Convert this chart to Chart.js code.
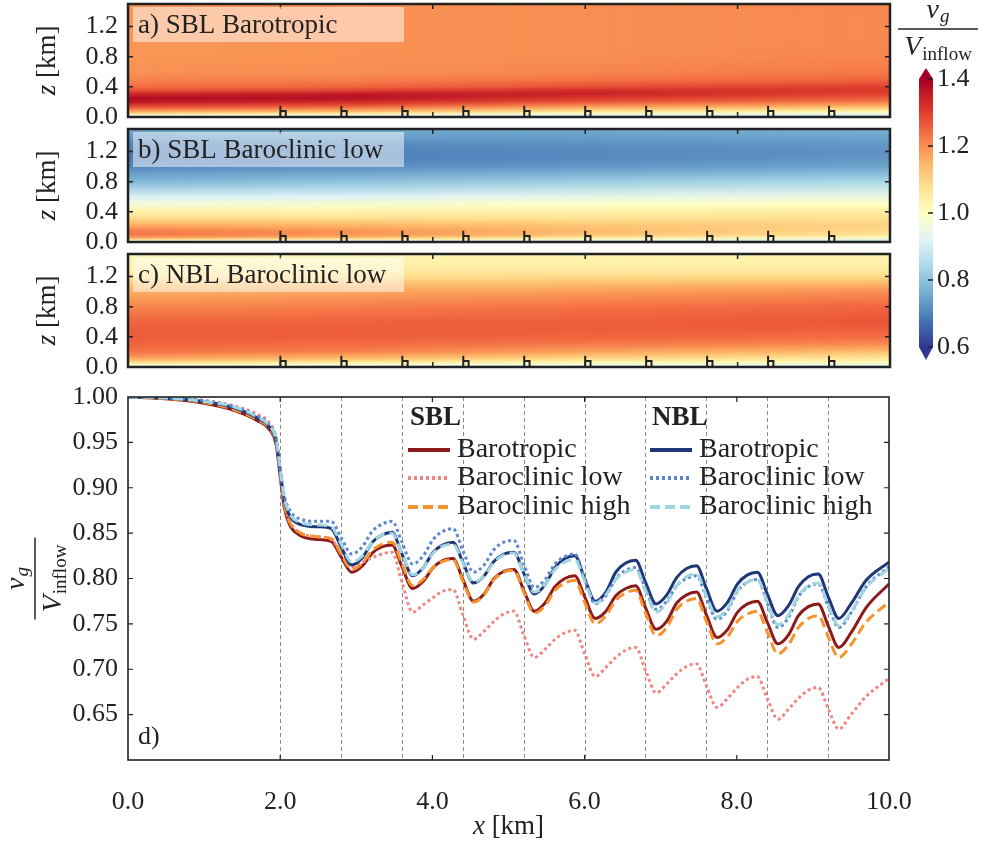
<!DOCTYPE html>
<html>
<head>
<meta charset="utf-8">
<title>Geostrophic wind through the farm</title>
<script src="https://cdn.jsdelivr.net/npm/chart.js@4"></script>
<style>
  body { margin: 0; background: #fff; }
  #wrap { position: relative; width: 984px; height: 843px; }
  canvas { position: absolute; }
</style>
</head>
<body>
<div id="wrap">
  <canvas id="panel-a" width="900" height="135" style="left:0;top:0"></canvas>
  <canvas id="panel-b" width="900" height="135" style="left:0;top:125px"></canvas>
  <canvas id="panel-c" width="900" height="135" style="left:0;top:250px"></canvas>
  <canvas id="cbar" width="94" height="370" style="left:890px;top:0"></canvas>
  <canvas id="lines" width="984" height="463" style="left:0;top:380px"></canvas>
</div>
<script>
// ---- data ----
const turbineX = [2.0, 2.8, 3.6, 4.4, 5.2, 6.0, 6.8, 7.6, 8.4, 9.2];
const xMajor = [0, 2, 4, 6, 8, 10];
const zTicks = [0.0, 0.4, 0.8, 1.2];
const vTicks = [0.65, 0.70, 0.75, 0.80, 0.85, 0.90, 0.95, 1.00];
const cbTicks = [0.6, 0.8, 1.0, 1.2, 1.4];

// heatmap columns (km) and heights (km), values = v_g / V_inflow
const xCols = [0, 3, 6, 10];
const zLevels = [0, 0.02, 0.04, 0.07, 0.1, 0.15, 0.2, 0.25, 0.3, 0.35, 0.4, 0.5, 0.6, 0.8, 1.0, 1.1, 1.2, 1.3, 1.4, 1.5];
const fieldA = [
  [0.80, 0.95, 1.06, 1.16, 1.22, 1.30, 1.36, 1.38, 1.34, 1.28, 1.24, 1.21, 1.195, 1.19, 1.19, 1.19, 1.19, 1.19, 1.19, 1.19],
  [0.80, 0.93, 1.03, 1.13, 1.19, 1.27, 1.33, 1.37, 1.36, 1.30, 1.25, 1.215, 1.20, 1.195, 1.195, 1.195, 1.195, 1.195, 1.195, 1.195],
  [0.80, 0.90, 0.98, 1.06, 1.12, 1.20, 1.27, 1.31, 1.34, 1.33, 1.28, 1.23, 1.21, 1.20, 1.20, 1.20, 1.20, 1.20, 1.20, 1.20],
  [0.80, 0.88, 0.95, 1.02, 1.08, 1.16, 1.22, 1.26, 1.29, 1.31, 1.30, 1.25, 1.225, 1.21, 1.205, 1.205, 1.205, 1.205, 1.205, 1.21]
];
const fieldB = [
  [0.80, 0.97, 1.12, 1.20, 1.23, 1.22, 1.18, 1.14, 1.10, 1.06, 1.03, 0.97, 0.91, 0.78, 0.71, 0.69, 0.69, 0.70, 0.73, 0.76],
  [0.80, 0.95, 1.08, 1.16, 1.19, 1.19, 1.16, 1.13, 1.09, 1.06, 1.03, 0.98, 0.92, 0.80, 0.72, 0.70, 0.70, 0.71, 0.74, 0.76],
  [0.80, 0.91, 1.01, 1.09, 1.13, 1.14, 1.13, 1.11, 1.08, 1.06, 1.04, 0.99, 0.94, 0.82, 0.73, 0.71, 0.71, 0.72, 0.74, 0.76],
  [0.80, 0.88, 0.96, 1.03, 1.07, 1.09, 1.10, 1.10, 1.08, 1.07, 1.05, 1.00, 0.95, 0.84, 0.75, 0.73, 0.72, 0.73, 0.75, 0.77]
];
const fieldC = [
  [0.82, 0.95, 1.03, 1.10, 1.15, 1.20, 1.23, 1.24, 1.25, 1.26, 1.26, 1.26, 1.25, 1.21, 1.16, 1.12, 1.07, 1.04, 1.03, 1.03],
  [0.82, 0.93, 1.01, 1.07, 1.12, 1.17, 1.21, 1.23, 1.24, 1.25, 1.26, 1.26, 1.255, 1.22, 1.17, 1.13, 1.08, 1.05, 1.03, 1.03],
  [0.82, 0.91, 0.99, 1.04, 1.08, 1.13, 1.17, 1.20, 1.22, 1.24, 1.25, 1.26, 1.26, 1.235, 1.18, 1.14, 1.09, 1.05, 1.03, 1.03],
  [0.82, 0.90, 0.97, 1.02, 1.05, 1.09, 1.13, 1.17, 1.20, 1.22, 1.24, 1.26, 1.27, 1.25, 1.20, 1.15, 1.09, 1.05, 1.03, 1.03]
];

// panel d: v_g / V_inflow along x
const xKm = [0, 0.5, 1.0, 1.4, 1.7, 1.85, 1.95, 2.0, 2.05, 2.12, 2.25, 2.5, 2.67,
  2.8, 2.94, 3.08, 3.21, 3.34, 3.47,
  3.6, 3.74, 3.88, 4.01, 4.14, 4.27,
  4.4, 4.54, 4.68, 4.81, 4.94, 5.07,
  5.2, 5.34, 5.48, 5.61, 5.74, 5.87,
  6.0, 6.14, 6.28, 6.41, 6.54, 6.67,
  6.8, 6.94, 7.08, 7.21, 7.34, 7.47,
  7.6, 7.74, 7.88, 8.01, 8.14, 8.27,
  8.4, 8.54, 8.68, 8.81, 8.94, 9.07,
  9.2, 9.34, 9.5, 9.7, 10.0];
const sblBaro = [1.000, 0.998, 0.993, 0.985, 0.974, 0.965, 0.946, 0.912, 0.880, 0.860, 0.848, 0.843, 0.841,
  0.824, 0.807, 0.814, 0.828, 0.835, 0.837,
  0.813, 0.789, 0.797, 0.812, 0.820, 0.822,
  0.799, 0.775, 0.783, 0.800, 0.808, 0.810,
  0.787, 0.764, 0.773, 0.791, 0.800, 0.803,
  0.780, 0.756, 0.764, 0.781, 0.789, 0.792,
  0.768, 0.744, 0.753, 0.773, 0.782, 0.785,
  0.760, 0.735, 0.744, 0.763, 0.772, 0.775,
  0.752, 0.728, 0.738, 0.759, 0.769, 0.772,
  0.748, 0.724, 0.740, 0.768, 0.794];
const sblLow = [1.000, 0.999, 0.996, 0.990, 0.981, 0.972, 0.953, 0.918, 0.885, 0.864, 0.851, 0.846, 0.843,
  0.828, 0.813, 0.818, 0.823, 0.827, 0.829,
  0.796, 0.763, 0.771, 0.779, 0.786, 0.788,
  0.760, 0.733, 0.742, 0.753, 0.761, 0.764,
  0.738, 0.713, 0.722, 0.733, 0.740, 0.743,
  0.717, 0.692, 0.702, 0.713, 0.721, 0.724,
  0.699, 0.674, 0.684, 0.695, 0.703, 0.706,
  0.682, 0.658, 0.668, 0.680, 0.689, 0.692,
  0.668, 0.645, 0.656, 0.668, 0.677, 0.680,
  0.657, 0.634, 0.650, 0.670, 0.690];
const sblHigh = [1.000, 0.998, 0.994, 0.986, 0.975, 0.966, 0.948, 0.914, 0.883, 0.863, 0.851, 0.846, 0.844,
  0.827, 0.810, 0.817, 0.831, 0.838, 0.840,
  0.816, 0.792, 0.799, 0.812, 0.819, 0.821,
  0.797, 0.774, 0.782, 0.799, 0.807, 0.809,
  0.785, 0.762, 0.770, 0.787, 0.795, 0.798,
  0.774, 0.750, 0.759, 0.776, 0.784, 0.787,
  0.762, 0.737, 0.746, 0.766, 0.775, 0.778,
  0.753, 0.728, 0.736, 0.753, 0.761, 0.764,
  0.741, 0.717, 0.727, 0.746, 0.756, 0.759,
  0.736, 0.713, 0.727, 0.752, 0.774];
const nblBaro = [1.000, 0.999, 0.995, 0.988, 0.977, 0.968, 0.950, 0.918, 0.888, 0.870, 0.860, 0.857, 0.855,
  0.835, 0.815, 0.823, 0.840, 0.848, 0.851,
  0.827, 0.803, 0.812, 0.829, 0.837, 0.840,
  0.818, 0.795, 0.803, 0.819, 0.827, 0.829,
  0.806, 0.783, 0.793, 0.812, 0.822, 0.825,
  0.800, 0.775, 0.785, 0.807, 0.817, 0.820,
  0.796, 0.772, 0.782, 0.801, 0.811, 0.814,
  0.789, 0.764, 0.774, 0.794, 0.804, 0.807,
  0.783, 0.759, 0.770, 0.791, 0.802, 0.805,
  0.780, 0.756, 0.772, 0.798, 0.818];
const nblLow = [1.000, 0.999, 0.996, 0.989, 0.979, 0.970, 0.953, 0.922, 0.893, 0.876, 0.866, 0.863, 0.863,
  0.845, 0.827, 0.835, 0.852, 0.860, 0.863,
  0.840, 0.816, 0.825, 0.843, 0.852, 0.855,
  0.831, 0.807, 0.815, 0.832, 0.840, 0.842,
  0.816, 0.790, 0.799, 0.816, 0.824, 0.827,
  0.800, 0.772, 0.781, 0.800, 0.809, 0.812,
  0.789, 0.766, 0.775, 0.792, 0.800, 0.803,
  0.779, 0.755, 0.765, 0.786, 0.796, 0.799,
  0.773, 0.746, 0.757, 0.780, 0.791, 0.794,
  0.770, 0.746, 0.762, 0.791, 0.813];
const nblHigh = [1.000, 0.999, 0.995, 0.989, 0.978, 0.969, 0.952, 0.920, 0.890, 0.872, 0.862, 0.859, 0.857,
  0.838, 0.818, 0.825, 0.840, 0.848, 0.850,
  0.827, 0.804, 0.812, 0.828, 0.836, 0.838,
  0.817, 0.796, 0.803, 0.818, 0.826, 0.828,
  0.806, 0.785, 0.793, 0.810, 0.818, 0.821,
  0.797, 0.773, 0.782, 0.799, 0.807, 0.810,
  0.786, 0.763, 0.773, 0.792, 0.802, 0.805,
  0.781, 0.758, 0.767, 0.787, 0.796, 0.799,
  0.774, 0.749, 0.760, 0.781, 0.792, 0.795,
  0.771, 0.748, 0.763, 0.790, 0.811];
const caseNames = ['Barotropic', 'Baroclinic low', 'Baroclinic high'];

// ---- colormap (RdYlBu reversed) ----
const cbMin = 0.6, cbMax = 1.4;
const cmapColors = ['#313695', '#4575b4', '#74add1', '#abd9e9', '#e0f3f8', '#ffffbf',
                    '#fee090', '#fdae61', '#f46d43', '#d73027', '#a50026'];
function hex(h) { return [1, 3, 5].map(i => parseInt(h.substr(i, 2), 16)); }
function cmap(v) {
  let t = Math.max(0, Math.min(1, (v - cbMin) / (cbMax - cbMin))) * (cmapColors.length - 1);
  const i = Math.min(Math.floor(t), cmapColors.length - 2), f = t - i;
  const a = hex(cmapColors[i]), b = hex(cmapColors[i + 1]);
  return 'rgb(' + a.map((c, k) => Math.round(c + (b[k] - c) * f)).join(',') + ')';
}

const SERIF = '"Liberation Serif", "Times New Roman", serif';
Chart.defaults.font.family = SERIF;
Chart.defaults.color = '#222';

// no extra room for tick labels hanging over the plot edges
const noPadY = s => { s.paddingTop = 0; s.paddingBottom = 0; };
const noPadX = s => { s.paddingLeft = 0; s.paddingRight = 0; };
const noGrid = { display: false, drawTicks: false };

// math helpers
function mathPart(ctx, base, sub, subItalic, cx, baseline, subDrop) {
  ctx.font = 'italic 28px ' + SERIF;
  const wb = ctx.measureText(base).width;
  const subFont = (subItalic ? 'italic ' : '') + '19px ' + SERIF;
  ctx.font = subFont;
  const ws = ctx.measureText(sub).width;
  const x0 = cx - (wb + ws + 1) / 2;
  ctx.textAlign = 'left'; ctx.textBaseline = 'alphabetic';
  ctx.font = 'italic 28px ' + SERIF;
  ctx.fillText(base, x0, baseline);
  ctx.font = subFont;
  ctx.fillText(sub, x0 + wb + 1, baseline + subDrop);
}
function drawFrac(ctx, cx, cy, halfLen) {
  ctx.fillStyle = '#222'; ctx.strokeStyle = '#222';
  mathPart(ctx, 'v', 'g', true, cx, cy - 11, 4);
  ctx.beginPath(); ctx.lineWidth = 1.5;
  ctx.moveTo(cx - halfLen, cy); ctx.lineTo(cx + halfLen, cy); ctx.stroke();
  mathPart(ctx, 'V', 'inflow', false, cx, cy + 26, 5);
}
function unitLabel(ctx, sym, unit, cx, cy) {
  ctx.font = 'italic 27px ' + SERIF;
  const w1 = ctx.measureText(sym).width;
  ctx.font = '27px ' + SERIF;
  const w2 = ctx.measureText(unit).width;
  const x0 = cx - (w1 + w2) / 2;
  ctx.textAlign = 'left'; ctx.textBaseline = 'middle'; ctx.fillStyle = '#222';
  ctx.font = 'italic 27px ' + SERIF; ctx.fillText(sym, x0, cy);
  ctx.font = '27px ' + SERIF; ctx.fillText(unit, x0 + w1, cy);
}

// ---- heatmap panels ----
function drawPanel(chart, field, label) {
  const { ctx, chartArea: a, scales: { x, y } } = chart;
  const yb = y.getPixelForValue(0), yt = y.getPixelForValue(1.5);
  const profileGrad = (g2d, vals) => {
    const g = g2d.createLinearGradient(0, yb, 0, yt);
    zLevels.forEach((z, k) => g.addColorStop((y.getPixelForValue(z) - yb) / (yt - yb), cmap(vals[k])));
    return g;
  };
  const off = document.createElement('canvas');
  off.width = chart.width; off.height = chart.height;
  const o = off.getContext('2d');
  ctx.save();
  for (let i = 0; i < xCols.length - 1; i++) {
    const x0 = Math.round(x.getPixelForValue(xCols[i])), x1 = Math.round(x.getPixelForValue(xCols[i + 1]));
    ctx.fillStyle = profileGrad(ctx, field[i]);
    ctx.fillRect(x0, yt, x1 - x0, yb - yt);
    o.clearRect(0, 0, off.width, off.height);
    o.globalCompositeOperation = 'source-over';
    o.fillStyle = profileGrad(o, field[i + 1]);
    o.fillRect(x0, yt, x1 - x0, yb - yt);
    const m = o.createLinearGradient(x0, 0, x1, 0);
    m.addColorStop(0, 'rgba(0,0,0,0)'); m.addColorStop(1, 'rgba(0,0,0,1)');
    o.globalCompositeOperation = 'destination-in';
    o.fillStyle = m;
    o.fillRect(x0, yt, x1 - x0, yb - yt);
    ctx.drawImage(off, 0, 0);
  }
  // turbines: rotor disk, nacelle, tower
  ctx.strokeStyle = '#222'; ctx.lineWidth = 2;
  turbineX.forEach(t => {
    const xr = x.getPixelForValue(t), xn = x.getPixelForValue(t + 0.07), yh = y.getPixelForValue(0.08);
    ctx.beginPath();
    ctx.moveTo(xr, y.getPixelForValue(0.0)); ctx.lineTo(xr, y.getPixelForValue(0.15));
    ctx.moveTo(xr, yh); ctx.lineTo(xn, yh); ctx.lineTo(xn, yb);
    ctx.stroke();
  });
  // ticks
  ctx.lineWidth = 1.5;
  ctx.beginPath();
  zTicks.forEach(v => {
    if (v <= 0) return;
    const py = y.getPixelForValue(v);
    ctx.moveTo(a.left, py); ctx.lineTo(a.left + 5, py);
    ctx.moveTo(a.right, py); ctx.lineTo(a.right - 5, py);
  });
  xMajor.forEach(v => {
    if (v <= 0 || v >= 10) return;
    const px = x.getPixelForValue(v);
    ctx.moveTo(px, a.top); ctx.lineTo(px, a.top + 5);
    ctx.moveTo(px, a.bottom); ctx.lineTo(px, a.bottom - 5);
  });
  ctx.stroke();
  // frame
  ctx.lineWidth = 2.5;
  ctx.strokeRect(a.left, a.top, a.width, a.height);
  // panel label
  ctx.fillStyle = 'rgba(255,255,255,0.5)';
  ctx.fillRect(a.left + 5, a.top + 3, 271, 35);
  ctx.fillStyle = '#222';
  ctx.font = '27px ' + SERIF; ctx.textAlign = 'left'; ctx.textBaseline = 'alphabetic';
  ctx.fillText(label, a.left + 10, a.top + 29);
  // axis title
  ctx.translate(48, (a.top + a.bottom) / 2);
  ctx.rotate(-Math.PI / 2);
  unitLabel(ctx, 'z', ' [km]', 0, 0);
  ctx.restore();
}

function heatmapChart(id, field, label) {
  return new Chart(document.getElementById(id), {
    type: 'scatter',
    data: { datasets: [] },
    options: {
      responsive: false, animation: false, devicePixelRatio: 1,
      layout: { padding: { top: 4, bottom: 18, right: 10, left: 0 } },
      plugins: { legend: { display: false }, tooltip: { enabled: false } },
      scales: {
        x: { type: 'linear', min: 0, max: 10, display: false, afterFit: noPadX },
        y: {
          type: 'linear', min: 0, max: 1.5,
          grid: noGrid, border: { display: false },
          afterBuildTicks: s => { s.ticks = zTicks.map(v => ({ value: v })); },
          afterFit: s => { s.width = 128; noPadY(s); },
          ticks: { font: { size: 26 }, padding: 10, color: '#222', autoSkip: false, callback: v => v.toFixed(1) }
        }
      }
    },
    plugins: [{ id: 'field', afterDraw: c => drawPanel(c, field, label) }]
  });
}

heatmapChart('panel-a', fieldA, 'a) SBL Barotropic');
heatmapChart('panel-b', fieldB, 'b) SBL Baroclinic low');
heatmapChart('panel-c', fieldC, 'c) NBL Baroclinic low');

// ---- colorbar ----
new Chart(document.getElementById('cbar'), {
  type: 'scatter',
  data: { datasets: [] },
  options: {
    responsive: false, animation: false, devicePixelRatio: 1,
    layout: { padding: { top: 79, bottom: 23, left: 29, right: 0 } },
    plugins: { legend: { display: false }, tooltip: { enabled: false } },
    scales: {
      x: { type: 'linear', min: 0, max: 1, display: false, afterFit: noPadX },
      y: {
        type: 'linear', position: 'right', min: cbMin, max: cbMax,
        grid: noGrid, border: { display: false },
        afterBuildTicks: s => { s.ticks = cbTicks.map(v => ({ value: v })); },
        afterFit: s => { s.width = 51; noPadY(s); },
        ticks: { font: { size: 26 }, padding: 4, color: '#222', autoSkip: false, callback: v => v.toFixed(1) }
      }
    }
  },
  plugins: [{
    id: 'colorbar',
    afterDraw(chart) {
      const { ctx, chartArea: a, scales: { y } } = chart;
      const y0 = y.getPixelForValue(cbMin), y1 = y.getPixelForValue(cbMax);
      const g = ctx.createLinearGradient(0, y0, 0, y1);
      cmapColors.forEach((c, i) => g.addColorStop(i / (cmapColors.length - 1), c));
      ctx.save();
      ctx.fillStyle = g;
      ctx.fillRect(a.left, y1, a.width, y0 - y1);
      const cx = (a.left + a.right) / 2;
      ctx.fillStyle = cmapColors[cmapColors.length - 1];
      ctx.beginPath(); ctx.moveTo(a.left, y1); ctx.lineTo(a.right, y1); ctx.lineTo(cx, y1 - 11); ctx.closePath(); ctx.fill();
      ctx.fillStyle = cmapColors[0];
      ctx.beginPath(); ctx.moveTo(a.left, y0); ctx.lineTo(a.right, y0); ctx.lineTo(cx, y0 + 13); ctx.closePath(); ctx.fill();
      ctx.strokeStyle = '#222'; ctx.lineWidth = 1.5;
      ctx.beginPath();
      cbTicks.forEach(v => { const py = y.getPixelForValue(v); ctx.moveTo(a.right - 5, py); ctx.lineTo(a.right, py); });
      ctx.stroke();
      drawFrac(ctx, 48, 29, 40);
      ctx.restore();
    }
  }]
});

// ---- panel d: line chart ----
const seriesDefs = [
  { data: sblBaro, color: '#8b1a1a', dash: [] },
  { data: sblLow, color: '#f28482', dash: [3, 3] },
  { data: sblHigh, color: '#f7932f', dash: [10, 5] },
  { data: nblBaro, color: '#1f3677', dash: [] },
  { data: nblLow, color: '#5b87cf', dash: [3, 3] },
  { data: nblHigh, color: '#9fd6e2', dash: [10, 5] }
];
const datasets = seriesDefs.map((s, i) => ({
  label: (i < 3 ? 'SBL ' : 'NBL ') + caseNames[i % 3],
  data: xKm.map((xv, k) => ({ x: xv, y: s.data[k] })),
  borderColor: s.color,
  borderDash: s.dash,
  borderWidth: 3,
  pointRadius: 0,
  fill: false,
  cubicInterpolationMode: 'monotone',
  order: seriesDefs.length - i
}));

new Chart(document.getElementById('lines'), {
  type: 'line',
  data: { datasets },
  options: {
    responsive: false, animation: false, devicePixelRatio: 1,
    layout: { padding: { top: 17, right: 95, left: 0, bottom: 0 } },
    plugins: { legend: { display: false }, tooltip: { enabled: false } },
    scales: {
      x: {
        type: 'linear', min: 0, max: 10,
        grid: noGrid, border: { display: false },
        afterBuildTicks: s => { s.ticks = xMajor.map(v => ({ value: v })); },
        afterFit: s => { s.height = 83; noPadX(s); },
        ticks: { font: { size: 26 }, padding: 27, color: '#222', maxRotation: 0, autoSkip: false, callback: v => v.toFixed(1) }
      },
      y: {
        type: 'linear', min: 0.6, max: 1.0,
        grid: noGrid, border: { display: false },
        afterBuildTicks: s => { s.ticks = vTicks.map(v => ({ value: v })); },
        afterFit: s => { s.width = 128; noPadY(s); },
        ticks: { font: { size: 26 }, padding: 10, color: '#222', autoSkip: false, callback: v => v.toFixed(2) }
      }
    }
  },
  plugins: [{
    id: 'decor',
    beforeDatasetsDraw(chart) {
      const { ctx, chartArea: a, scales: { x } } = chart;
      ctx.save();
      ctx.strokeStyle = '#8a8a8a'; ctx.lineWidth = 1; ctx.setLineDash([4, 3]);
      turbineX.forEach(t => {
        const px = Math.round(x.getPixelForValue(t)) + 0.5;
        ctx.beginPath(); ctx.moveTo(px, a.top); ctx.lineTo(px, a.bottom); ctx.stroke();
      });
      ctx.restore();
    },
    afterDraw(chart) {
      const { ctx, chartArea: a, scales: { x, y } } = chart;
      ctx.save();
      ctx.strokeStyle = '#222'; ctx.lineWidth = 1.2;
      ctx.beginPath();
      vTicks.forEach(v => {
        if (v >= 1.0) return;
        const py = y.getPixelForValue(v);
        ctx.moveTo(a.left, py); ctx.lineTo(a.left + 5, py);
        ctx.moveTo(a.right, py); ctx.lineTo(a.right - 5, py);
      });
      xMajor.forEach(v => {
        if (v <= 0 || v >= 10) return;
        const px = x.getPixelForValue(v);
        ctx.moveTo(px, a.top); ctx.lineTo(px, a.top + 5);
        ctx.moveTo(px, a.bottom); ctx.lineTo(px, a.bottom - 5);
      });
      ctx.stroke();
      ctx.lineWidth = 1.6;
      ctx.strokeRect(a.left, a.top, a.width, a.height);

      // legend in two columns
      const groups = [{ head: 'SBL', x: 280, sets: [0, 1, 2] }, { head: 'NBL', x: 522, sets: [3, 4, 5] }];
      const rowY = [53, 81, 110];
      groups.forEach(gp => {
        const lx = a.left + gp.x;
        ctx.fillStyle = '#222';
        ctx.font = 'bold 27px ' + SERIF; ctx.textAlign = 'left'; ctx.textBaseline = 'middle';
        ctx.fillText(gp.head, lx + 2, a.top + 21);
        gp.sets.forEach((di, r) => {
          const ds = chart.data.datasets[di];
          const yy = a.top + rowY[r];
          ctx.strokeStyle = ds.borderColor; ctx.lineWidth = 4; ctx.setLineDash(ds.borderDash);
          ctx.beginPath(); ctx.moveTo(lx, yy); ctx.lineTo(lx + 42, yy); ctx.stroke();
          ctx.setLineDash([]);
          ctx.fillStyle = '#222'; ctx.font = '28px ' + SERIF;
          ctx.fillText(caseNames[r], lx + 49, yy);
        });
      });

      ctx.fillStyle = '#222'; ctx.font = '26px ' + SERIF; ctx.textAlign = 'left'; ctx.textBaseline = 'alphabetic';
      ctx.fillText('d)', a.left + 10, a.bottom - 16);

      unitLabel(ctx, 'x', ' [km]', (a.left + a.right) / 2, chart.height - 16);

      ctx.translate(35, (a.top + a.bottom) / 2);
      ctx.rotate(-Math.PI / 2);
      drawFrac(ctx, 0, 0, 41);
      ctx.restore();
    }
  }]
});
</script>
</body>
</html>
